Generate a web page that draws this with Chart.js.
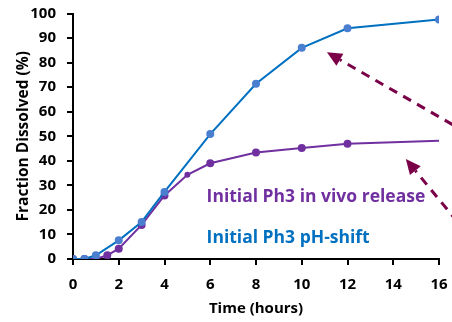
<!DOCTYPE html>
<html>
<head>
<meta charset="utf-8">
<script src="https://cdn.jsdelivr.net/npm/chart.js@4/dist/chart.umd.min.js"></script>
<style>
  html, body { margin: 0; padding: 0; background: #fff; }
  #wrap { width: 452px; height: 322px; }
</style>
</head>
<body>
<div id="wrap"><canvas id="dissolution"></canvas></div>
<script>
// sampling times (hours) and fraction dissolved (%)
const phShiftTimes = [0, 0.5, 1, 2, 3, 4, 6, 8, 10, 12, 16];
const phShiftValues = [0, 0, 1.5, 7.6, 15.1, 27.3, 50.9, 71.4, 86.0, 94.0, 97.6];

const inVivoTimes = [0, 0.5, 1, 1.5, 2, 3, 4, 5, 6, 8, 10, 12, 16];
const inVivoValues = [0, 0, 0, 1.5, 4.2, 13.9, 25.9, 34.3, 39.0, 43.4, 45.2, 46.9, 48.2];

const xTicks = [0, 2, 4, 6, 8, 10, 12, 14, 16];
const yTicks = [0, 10, 20, 30, 40, 50, 60, 70, 80, 90, 100];

const seriesLabels = ['Initial Ph3 in vivo release', 'Initial Ph3 pH-shift'];

const blueLine = '#0070C0';
const blueDot = '#4A7FD0';
const purple = '#7030A0';
const arrowColor = '#7A0048';
const fontFamily = '"Open Sans", Lato, sans-serif';

function toPoints(xs, ys) {
    return xs.map((x, i) => ({ x: x, y: ys[i] }));
}

// dashed arrows and the two series captions, placed in data units
const notes = {
    id: 'notes',
    afterDatasetsDraw(chart) {
        const ctx = chart.ctx;
        const xs = chart.scales.x, ys = chart.scales.y;

        function arrow(x0, y0, x1, y1) {
            const ax = xs.getPixelForValue(x0), ay = ys.getPixelForValue(y0);
            const bx = xs.getPixelForValue(x1), by = ys.getPixelForValue(y1);
            const ang = Math.atan2(by - ay, bx - ax);
            const head = 15, half = 7;
            ctx.save();
            ctx.strokeStyle = arrowColor;
            ctx.fillStyle = arrowColor;
            ctx.lineWidth = 3;
            ctx.setLineDash([9, 7]);
            ctx.beginPath();
            ctx.moveTo(ax, ay);
            ctx.lineTo(bx - Math.cos(ang) * head, by - Math.sin(ang) * head);
            ctx.stroke();
            ctx.setLineDash([]);
            ctx.beginPath();
            ctx.moveTo(bx, by);
            ctx.lineTo(bx - Math.cos(ang) * head - Math.sin(ang) * half, by - Math.sin(ang) * head + Math.cos(ang) * half);
            ctx.lineTo(bx - Math.cos(ang) * head + Math.sin(ang) * half, by - Math.sin(ang) * head - Math.cos(ang) * half);
            ctx.closePath();
            ctx.fill();
            ctx.restore();
        }

        arrow(17.2, 51.5, 11.1, 84.2);
        arrow(16.8, 15.2, 14.55, 40.7);

        ctx.save();
        ctx.font = 'bold 17.5px ' + fontFamily;
        ctx.textBaseline = 'alphabetic';
        ctx.textAlign = 'left';
        ctx.fillStyle = purple;
        ctx.fillText(seriesLabels[0], xs.getPixelForValue(5.84), ys.getPixelForValue(23.1));
        ctx.fillStyle = blueLine;
        ctx.fillText(seriesLabels[1], xs.getPixelForValue(5.84), ys.getPixelForValue(6.7));
        ctx.restore();
    }
};

new Chart(document.getElementById('dissolution'), {
    type: 'scatter',
    data: {
        datasets: [
            {
                label: seriesLabels[1],
                data: toPoints(phShiftTimes, phShiftValues),
                showLine: true,
                borderColor: blueLine,
                borderWidth: 2,
                backgroundColor: blueDot,
                pointBorderColor: blueDot,
                pointRadius: 3,
                tension: 0
            },
            {
                label: seriesLabels[0],
                data: toPoints(inVivoTimes, inVivoValues),
                showLine: true,
                borderColor: purple,
                borderWidth: 2,
                backgroundColor: purple,
                pointBorderColor: purple,
                pointRadius: inVivoTimes.map(t => (t === 16 ? 0 : t === 5 ? 2 : 3)),
                tension: 0
            }
        ]
    },
    options: {
        responsive: true,
        maintainAspectRatio: false,
        animation: false,
        layout: { padding: { top: 13.5, right: 13, left: 14, bottom: 4 } },
        plugins: {
            legend: { display: false },
            tooltip: { enabled: false }
        },
        scales: {
            x: {
                type: 'linear',
                min: 0,
                max: 16,
                afterBuildTicks: (scale) => { scale.ticks = xTicks.map(v => ({ value: v })); },
                afterFit: (scale) => {
                    scale.height = 59;
                    scale.paddingLeft = 0;
                    scale.paddingRight = 0;
                },
                border: { color: '#000', width: 2 },
                grid: { drawOnChartArea: false, color: '#000', lineWidth: 2, tickLength: 6 },
                ticks: {
                    color: '#000',
                    font: { family: fontFamily, size: 15, weight: 'bold' },
                    padding: 11,
                    maxRotation: 0
                },
                title: {
                    display: true,
                    text: 'Time (hours)',
                    color: '#000',
                    font: { family: fontFamily, size: 15, weight: 'bold' },
                    padding: { top: 0, bottom: 0 }
                }
            },
            y: {
                min: 0,
                max: 100,
                afterBuildTicks: (scale) => { scale.ticks = yTicks.map(v => ({ value: v })); },
                afterFit: (scale) => {
                    scale.width = 59;
                    scale.paddingTop = 0;
                    scale.paddingBottom = 0;
                },
                border: { color: '#000', width: 2 },
                grid: { drawOnChartArea: false, color: '#000', lineWidth: 2, tickLength: 6 },
                ticks: {
                    color: '#000',
                    font: { family: fontFamily, size: 15, weight: 'bold' },
                    padding: 11
                },
                title: {
                    display: true,
                    text: 'Fraction Dissolved (%)',
                    color: '#000',
                    font: { family: fontFamily, size: 15.5, weight: 'bold' },
                    padding: { top: 0, bottom: 0 }
                }
            }
        }
    },
    plugins: [notes]
});
</script>
</body>
</html>
